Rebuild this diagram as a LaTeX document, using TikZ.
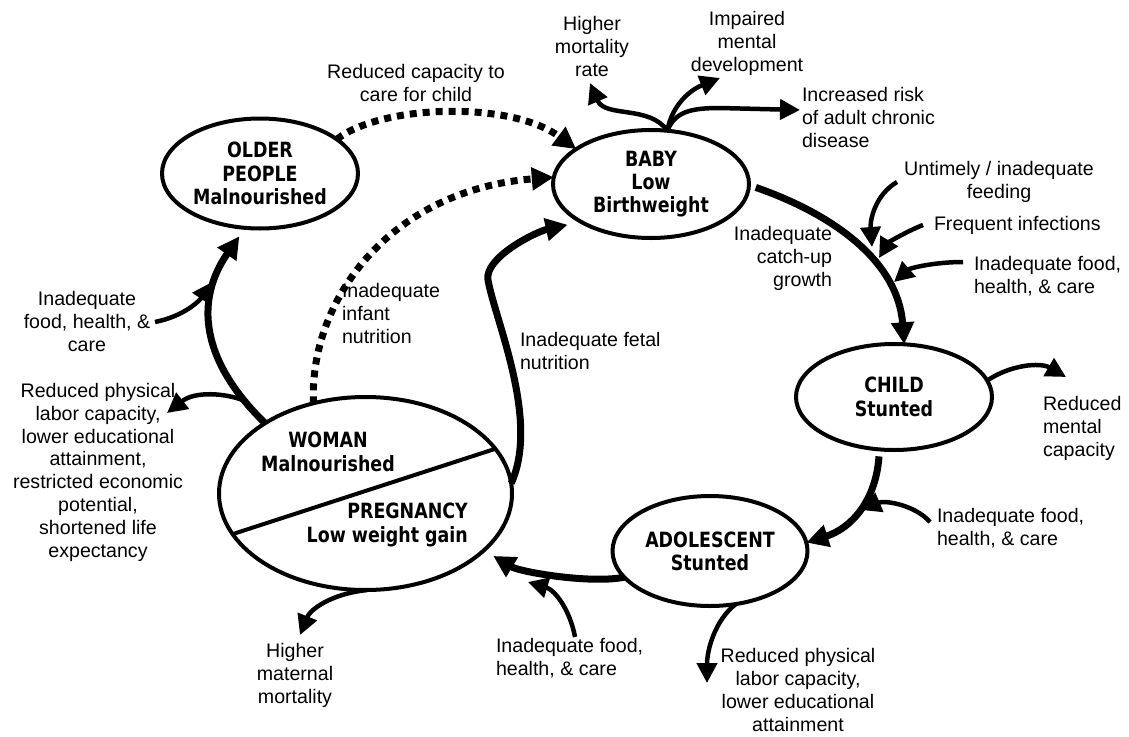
\documentclass[tikz,border=0pt]{standalone}
\usepackage{fontspec}
\setmainfont{Liberation Sans}
\newfontfamily\boldfam{DejaVu Sans Bold}[FakeStretch=0.83]
\usetikzlibrary{arrows.meta,shapes.geometric,calc}
\tikzset{
  ell/.style={draw, line width=4pt, ellipse, inner sep=0pt, outer sep=0pt, align=center,
    font=\boldfam\fontsize{21}{23.3}\selectfont},
  lbl/.style={inner sep=0pt, outer sep=0pt, align=center, anchor=base,
    font=\fontsize{19.6}{22.8}\selectfont},
  bigarrow/.style={line width=7pt, -{Triangle[length=22pt,width=22pt]}},
  thinarrow/.style={line width=4.5pt, -{Triangle[length=20pt,width=20pt]}},
  dotarrow/.style={line width=7pt, dash pattern=on 7pt off 6pt, -{Triangle[length=22pt,width=22pt]}},
}
\begin{document}
\begin{tikzpicture}[x=1pt,y=1pt]
\useasboundingbox (0,0) rectangle (1129,-736);
\fill[white] (0,0) rectangle (1129,-736);

% ellipses
\node[ell, minimum width=196pt, minimum height=110pt] (older) at (260,-173.5) {OLDER\\PEOPLE\\Malnourished};
\node[ell, minimum width=196pt, minimum height=108pt] (baby) at (651,-184) {BABY\\Low\\Birthweight};
\node[ell, minimum width=196pt, minimum height=106pt] (child) at (894,-397) {CHILD\\Stunted};
\node[ell, minimum width=195pt, minimum height=110pt] (adol) at (710,-551) {ADOLESCENT\\Stunted};
\node[ell, minimum width=293pt, minimum height=193pt] (woman) at (365.5,-493.5) {};
\draw[line width=4pt] (woman.197) -- (woman.19.2);
\node[inner sep=0pt, align=center, anchor=base, font=\boldfam\fontsize{21}{23.3}\selectfont] (wtext) at (328,-471) {WOMAN\\Malnourished};
\node[inner sep=0pt, align=right, anchor=base east, font=\boldfam\fontsize{21}{23.3}\selectfont] (ptext) at (468,-542) {PREGNANCY\\Low weight gain};

% labels (anchor = baseline of last line)
\node[lbl] (t_care) at (416,-101) {Reduced capacity to\\care for child};
\node[lbl] (t_mort) at (592,-76) {Higher\\mortality\\rate};
\node[lbl] (t_impair) at (747,-71) {Impaired\\mental\\development};
\node[lbl, align=left, anchor=base west] (t_risk) at (802,-147) {Increased risk\\of adult chronic\\disease};
\node[lbl] (t_untimely) at (999,-198) {Untimely / inadequate\\feeding};
\node[lbl, anchor=base west] (t_freq) at (934,-230) {Frequent infections};
\node[lbl, align=left, anchor=base west] (t_food1) at (974,-293) {Inadequate food,\\health, \& care};
\node[lbl, align=right, anchor=base east] (t_catch) at (832,-286) {Inadequate\\catch-up\\growth};
\node[lbl, align=left, anchor=base west] (t_fetal) at (520,-369) {Inadequate fetal\\nutrition};
\node[lbl, align=left, anchor=base west] (t_infant) at (342,-343) {Inadequate\\infant\\nutrition};
\node[lbl] (t_food2) at (87,-351) {Inadequate\\food, health, \&\\care};
\node[lbl] (t_phys1) at (98,-557) {Reduced physical\\labor capacity,\\lower educational\\attainment,\\restricted economic\\potential,\\shortened life\\expectancy};
\node[lbl] (t_mat) at (295,-703) {Higher\\maternal\\mortality};
\node[lbl, align=left, anchor=base west] (t_food3) at (496,-675) {Inadequate food,\\health, \& care};
\node[lbl] (t_phys2) at (798,-731) {Reduced physical\\labor capacity,\\lower educational\\attainment};
\node[lbl, align=left, anchor=base west] (t_food4) at (937,-545) {Inadequate food,\\health, \& care};
\node[lbl, align=left, anchor=base west] (t_mental) at (1043,-456) {Reduced\\mental\\capacity};

% free ends
\coordinate (s_food2) at (155,-322);
\coordinate (e_food2) at (212,-282);
\coordinate (e_phys1) at (167,-413);
\coordinate (e_mat) at (300,-635);
\coordinate (s_food3) at (575,-637);
\coordinate (e_food3) at (528,-582);
\coordinate (e_phys2) at (707,-683);
\coordinate (s_food4) at (930,-522);
\coordinate (e_food4) at (861,-510);
\coordinate (e_mental) at (1066,-377);
\coordinate (s_untimely) at (897,-182);
\coordinate (e_untimely) at (872,-247);
\coordinate (s_freq) at (923,-225);
\coordinate (e_freq) at (879,-258);
\coordinate (s_food1) at (963,-262);
\coordinate (e_food1) at (894,-282);
\coordinate (e_mort) at (590,-83);
\coordinate (e_impair) at (720,-78);
\coordinate (e_risk) at (800,-110);

% main cycle
\draw[bigarrow] ([xshift=7pt]baby.-2) .. controls (835,-215) and (898,-262) .. (child.79);
\draw[bigarrow] ([yshift=-7pt]child.-106) .. controls (876,-500) and (852,-528) .. (adol.5);
\draw[bigarrow] (adol.197.6) .. controls (590,-584) and (520,-572) .. ([shift={(10pt,-5pt)}]woman.-26.7);
\draw[bigarrow] (woman.4) .. controls (540,-420) and (495,-320) .. (488,-280)
   .. controls (484,-258) and (535,-232) .. ([shift={(-10pt,-5pt)}]baby.206);
\draw[bigarrow] (woman.145) .. controls (200,-360) and (195,-300) .. ([yshift=-9pt]older.-111.5)
   coordinate[pos=0.12] (wo1);

% dotted
\draw[dotarrow] (older.24) .. controls (380,-105) and (510,-100) .. (baby.155);
\draw[dotarrow] (woman.120.8) .. controls (309,-300) and (390,-190) .. (baby.176);

% thin arrows
\draw[thinarrow] (s_food2) .. controls (185,-316) and (200,-300) .. (e_food2);
\draw[thinarrow] (wo1) .. controls (225,-393) and (195,-391) .. (e_phys1);
\draw[thinarrow] (woman.-89) .. controls (330,-594) and (310,-610) .. (e_mat);
\draw[thinarrow] (s_food3) .. controls (570,-610) and (555,-590) .. (e_food3);
\draw[thinarrow] (adol.-64) .. controls (715,-620) and (707,-650) .. (e_phys2);
\draw[thinarrow] (s_food4) .. controls (915,-505) and (885,-500) .. (e_food4);
\draw[thinarrow] (child.10) .. controls (1010,-365) and (1040,-362) .. (e_mental);
\draw[thinarrow] (s_untimely) .. controls (875,-195) and (870,-220) .. (e_untimely);
\draw[thinarrow] (s_freq) .. controls (905,-232) and (888,-243) .. (e_freq);
\draw[thinarrow] (s_food1) .. controls (935,-262) and (910,-268) .. (e_food1);
\draw[thinarrow] (baby.73) .. controls (650,-105) and (605,-118) .. (e_mort);
\draw[thinarrow] (baby.73) .. controls (672,-105) and (690,-90) .. (e_impair);
\draw[thinarrow] (baby.73) .. controls (675,-112) and (690,-108) .. (720,-108) -- (e_risk);
\end{tikzpicture}
\end{document}
